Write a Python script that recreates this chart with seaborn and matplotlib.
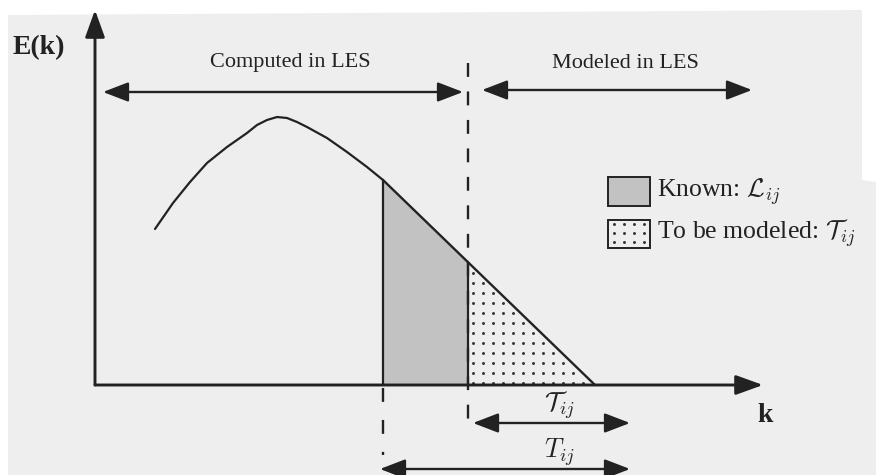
import numpy as np
import matplotlib
matplotlib.use("Agg")
import matplotlib.pyplot as plt
import seaborn as sns
from matplotlib.patches import Polygon, Rectangle

# Energy spectrum E(k): energetic hump of resolved scales, then a linear roll-off
k_hump = [0.60, 0.78, 0.95, 1.12, 1.32, 1.52, 1.62, 1.72, 1.82, 1.92, 2.02, 2.12,
          2.32, 2.52, 2.72, 2.88]
E_hump = [1.56, 1.82, 2.03, 2.22, 2.38, 2.52, 2.60, 2.65, 2.68, 2.67, 2.63, 2.58,
          2.47, 2.33, 2.18, 2.05]
k_tail = [2.88, 5.00]
E_tail = [2.05, 0.00]

k_test = 2.88   # test-filter cutoff
k_grid = 3.73   # grid-filter cutoff

region_labels = ["Computed in LES", "Modeled in LES"]
legend_labels = [r"Known: $\mathcal{L}_{ij}$", r"To be modeled: $\mathcal{T}_{ij}$"]
range_labels = [r"$\mathcal{T}_{ij}$", r"$T_{ij}$"]
axis_labels = ["E(k)", "k"]

sns.set_theme(style="white")
plt.rcParams["font.family"] = ["Liberation Serif", "DejaVu Serif"]
plt.rcParams["mathtext.fontset"] = "cm"
plt.rcParams["lines.scale_dashes"] = False

ink = "#222222"
paper_col = "#eeeeee"
known_col = "#c2c2c2"

fig = plt.figure(figsize=(8.8, 4.75), dpi=100)
fig.patch.set_facecolor("white")
W, H = 880.0, 475.0
sheet = [(8, 15), (862, 10), (862, 180), (876, 182), (876, 475), (8, 475)]
fig.patches.append(Polygon([(x / W, 1 - y / H) for x, y in sheet], closed=True,
                           transform=fig.transFigure, facecolor=paper_col,
                           edgecolor="none", zorder=-10))

ax = fig.add_axes([0, 0, 1, 1])
ax.set_xlim(-0.95, 7.85)
ax.set_ylim(-0.90, 3.85)
ax.axis("off")

# spectrum curve
sns.lineplot(x=k_hump, y=E_hump, ax=ax, color=ink, lw=1.6, sort=False,
             estimator=None, solid_capstyle="round", solid_joinstyle="round",
             zorder=4)
sns.lineplot(x=k_tail, y=E_tail, ax=ax, color=ink, lw=1.7, sort=False,
             estimator=None, solid_capstyle="round", zorder=4)

E_grid = float(np.interp(k_grid, k_tail, E_tail))

# known band between the two cutoffs
ax.fill_between([k_test, k_grid], [E_tail[0], E_grid], 0, color=known_col,
                lw=0, zorder=2)
# dotted band beyond the grid cutoff
step = 0.10
gx, gy = np.meshgrid(np.arange(k_grid + 0.05, k_tail[1], step),
                     np.arange(0.02, E_grid, step))
gx, gy = gx.ravel(), gy.ravel()
inside = gy < np.interp(gx, k_tail, E_tail) - 0.03
ax.scatter(gx[inside], gy[inside], s=4.5, color="#333333", lw=0, zorder=3)

# band edges
ax.plot([k_test, k_test], [0, E_tail[0]], color=ink, lw=1.6, zorder=4)
ax.plot([k_grid, k_grid], [0, E_grid], color=ink, lw=1.6, zorder=4)

# cutoff markers (dashed)
ax.plot([k_grid, k_grid], [3.22, -0.45], color=ink, lw=1.7,
        ls=(0, (10, 10.5)), zorder=3)
ax.plot([k_test, k_test], [-0.03, -0.70], color=ink, lw=1.7,
        ls=(0, (10, 13)), zorder=3)

def arrow(p0, p1, style="-|>", hl=0.78, hw=0.30, lw=1.7):
    ax.annotate("", xy=p1, xytext=p0,
                arrowprops=dict(arrowstyle=f"{style},head_length={hl},head_width={hw}",
                                color=ink, lw=lw, shrinkA=0, shrinkB=0,
                                mutation_scale=20), zorder=5)

# coordinate axes
arrow((0, 0), (0, 3.75), hl=0.83, hw=0.30, lw=2.1)
arrow((0, 0), (6.68, 0), hl=0.83, hw=0.30, lw=2.1)

# resolved / modelled ranges
arrow((0.08, 2.93), (3.68, 2.93), style="<|-|>")
arrow((3.87, 2.95), (6.57, 2.95), style="<|-|>")
ax.text(1.95, 3.23, region_labels[0], ha="center", va="center", fontsize=16, color=ink)
ax.text(5.30, 3.22, region_labels[1], ha="center", va="center", fontsize=16, color=ink)

# stress ranges under the k axis
arrow((3.78, -0.38), (5.35, -0.38), style="<|-|>")
arrow((2.85, -0.84), (5.35, -0.84), style="<|-|>")
ax.text(4.65, -0.20, range_labels[0], ha="center", va="center", fontsize=19, color=ink)
ax.text(4.65, -0.67, range_labels[1], ha="center", va="center", fontsize=19, color=ink)

# axis labels
ax.text(-0.82, 3.37, axis_labels[0], ha="left", va="center", fontsize=20,
        fontweight="bold", color=ink)
ax.text(6.70, -0.30, axis_labels[1], ha="center", va="center", fontsize=20,
        fontweight="bold", color=ink)

# key
ax.add_patch(Rectangle((5.13, 1.79), 0.42, 0.29, facecolor=known_col,
                       edgecolor=ink, lw=1.4, zorder=4))
ax.add_patch(Rectangle((5.13, 1.37), 0.42, 0.28, facecolor="none",
                       edgecolor=ink, lw=1.4, zorder=4))
kx, ky = np.meshgrid(np.arange(5.19, 5.53, 0.10), np.arange(1.43, 1.63, 0.09))
ax.scatter(kx.ravel(), ky.ravel(), s=4.5, color="#333333", lw=0, zorder=4)
ax.text(5.62, 1.93, legend_labels[0], ha="left", va="center", fontsize=18.5, color=ink)
ax.text(5.62, 1.52, legend_labels[1], ha="left", va="center", fontsize=18.5, color=ink)

fig.savefig("out.png", dpi=100, facecolor=fig.get_facecolor())
